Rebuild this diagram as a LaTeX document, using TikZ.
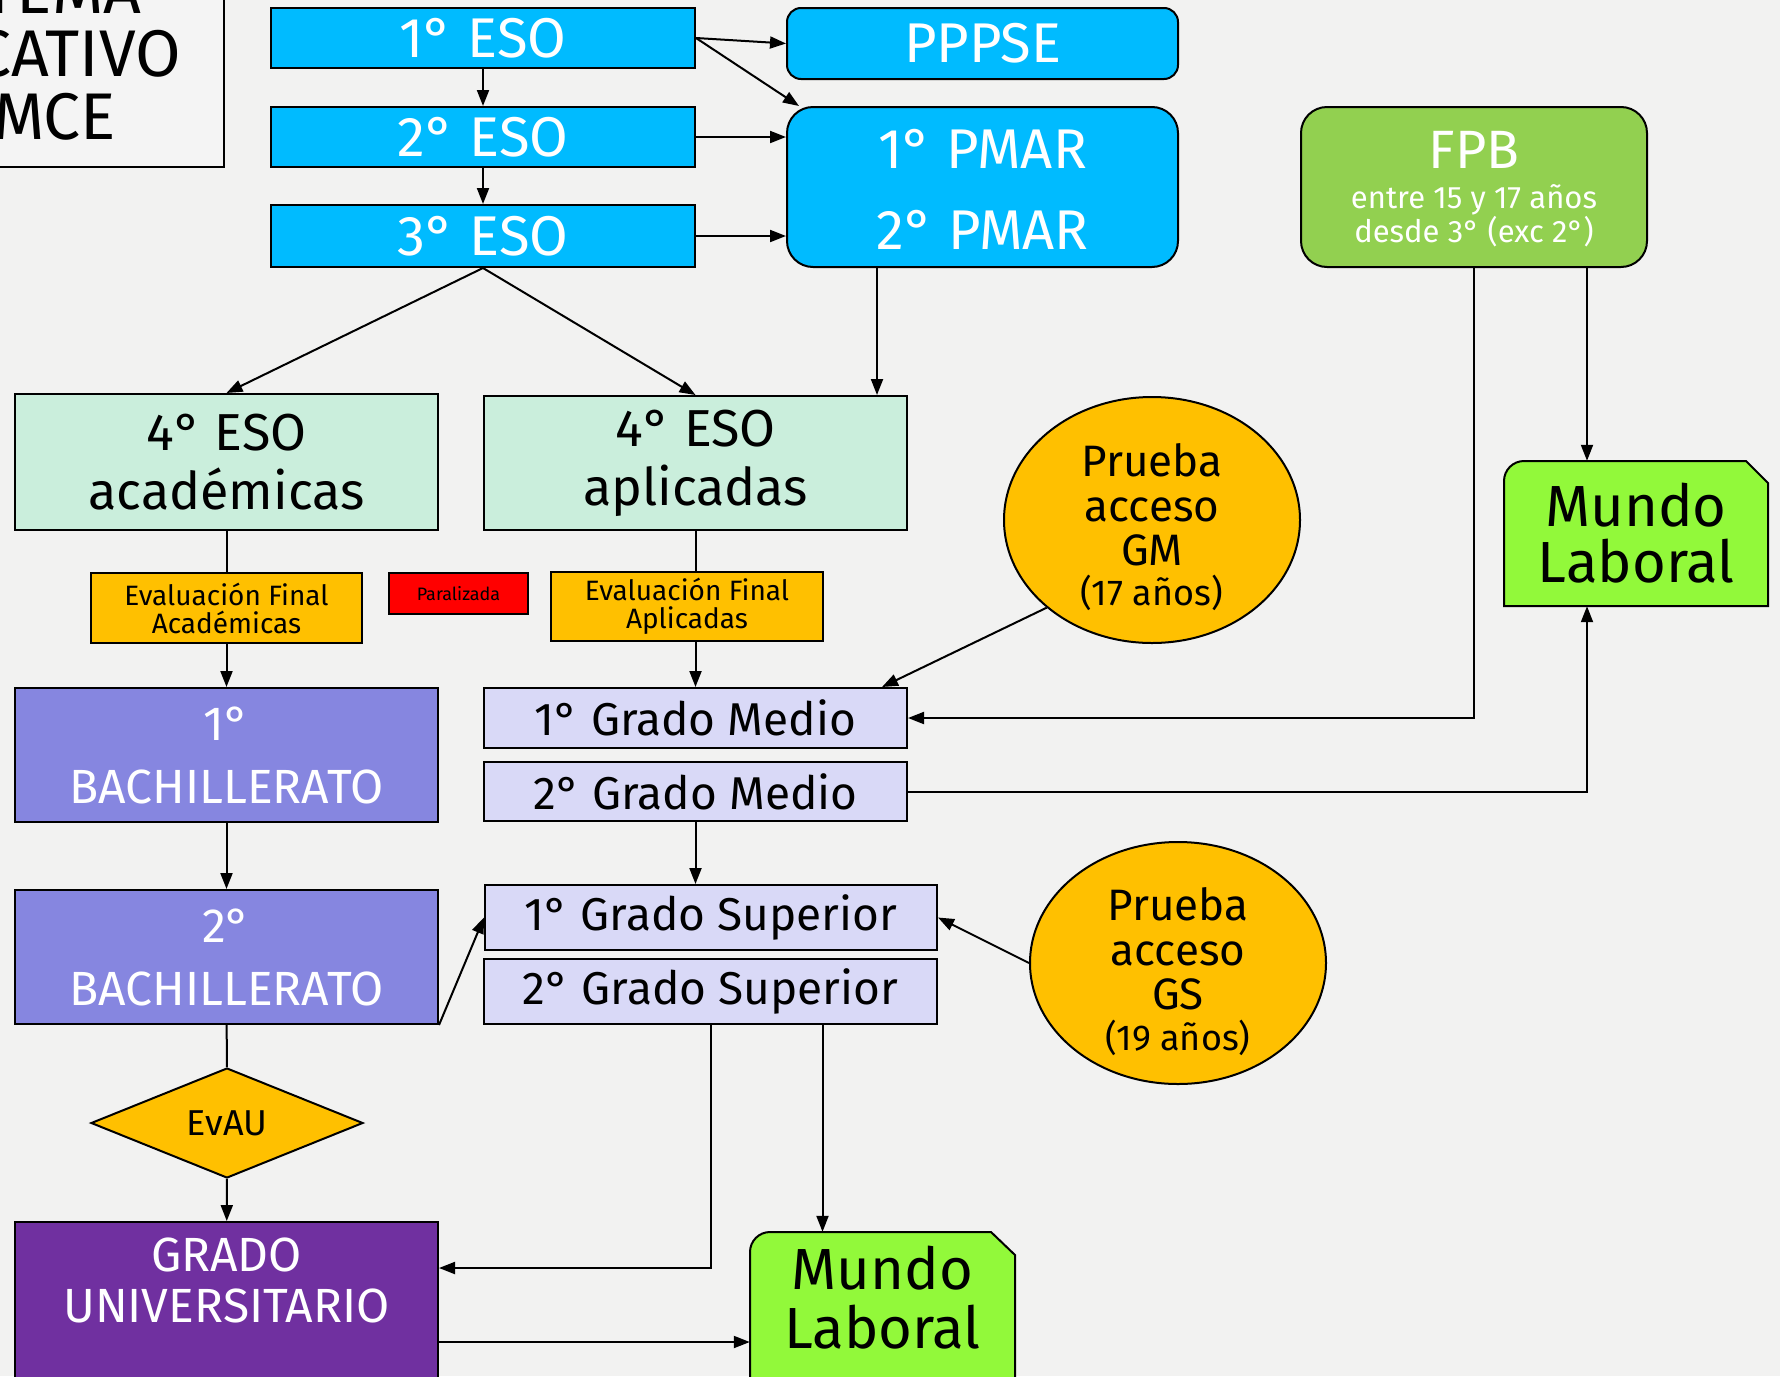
\documentclass[tikz,border=0pt]{standalone}
\usepackage{fontspec}
\setmainfont{Fira Sans}
\usetikzlibrary{arrows.meta,shapes.geometric}
\definecolor{bgc}{RGB}{242,242,241}
\definecolor{esoblue}{RGB}{0,187,255}
\definecolor{fpbgreen}{RGB}{146,208,80}
\definecolor{mint}{RGB}{202,238,220}
\definecolor{orangey}{RGB}{255,192,0}
\definecolor{redbox}{RGB}{255,0,0}
\definecolor{bachc}{RGB}{134,134,224}
\definecolor{lav}{RGB}{217,217,247}
\definecolor{mlgreen}{RGB}{146,249,58}
\definecolor{gupurple}{RGB}{112,48,160}
\definecolor{titlec}{RGB}{244,244,244}
\newcommand{\fsz}[2]{\fontsize{#1}{#2}\selectfont}
\begin{document}
\begin{tikzpicture}[x=1pt,y=-1pt,
  box/.style={rectangle, draw=black, line width=2pt, inner sep=0pt, align=center},
  txt/.style={inner sep=0pt, align=center},
  esobox/.style={box, fill=esoblue, text=white, font=\fsz{56}{60}},
  mintbox/.style={box, fill=mint, font=\fsz{52}{59}, minimum width=423pt},
  evbox/.style={box, fill=orangey, font=\fsz{28}{28}},
  bachbox/.style={box, fill=bachc, text=white, font=\fsz{48}{63}, minimum width=423pt, minimum height=134pt},
  lavbox/.style={box, fill=lav, font=\fsz{46}{50}},
  oval/.style={ellipse, draw=black, line width=2pt, fill=orangey, inner sep=0pt, minimum width=296pt},
  mlshape/.style={draw=black, line width=2pt, fill=mlgreen},
  arr/.style={draw=black, line width=2pt, -{Triangle[length=16pt,width=12pt]}},
  ln/.style={draw=black, line width=2pt}
]
\useasboundingbox (0,0) rectangle (1780,1376);
\fill[bgc] (0,0) rectangle (1780,1376);
\clip (0,0) rectangle (1780,1376);

% title
\node[box, fill=titlec, minimum width=524pt, minimum height=267pt] (title) at (-38,33.5) {};
\node[txt, font=\fsz{66}{63}] (titleT) at (17,54) {SISTEMA\\EDUCATIVO\\LOMCE};

% ESO column
\node[esobox, minimum width=424pt, minimum height=60pt] (eso1) at (483,38) {1° ESO};
\node[esobox, minimum width=424pt, minimum height=60pt] (eso2) at (483,137) {2° ESO};
\node[esobox, minimum width=424pt, minimum height=62pt] (eso3) at (483,236) {3° ESO};

\node[esobox, rounded corners=14pt, minimum width=391pt, minimum height=71pt] (pppse) at (982.5,43.5) {PPPSE};
\node[esobox, rounded corners=26pt, minimum width=391pt, minimum height=160pt] (pmar) at (982.5,187) {};
\node[txt, text=white, font=\fsz{56}{60}] (pmarA) at (982.5,149) {1° PMAR};
\node[txt, text=white, font=\fsz{56}{60}] (pmarB) at (982.5,230) {2° PMAR};

\node[box, fill=fpbgreen, rounded corners=26pt, minimum width=346pt, minimum height=160pt] (fpb) at (1474,187) {};
\node[txt, text=white, font=\fsz{54}{60}] (fpbA) at (1474,150) {FPB};
\node[txt, text=white, font=\fsz{31}{34}] (fpbB) at (1474,216) {entre 15 y 17 años\\desde 3° (exc 2°)};

% 4º ESO
\node[mintbox, minimum height=136pt] (acad) at (226.5,462) {4° ESO\\académicas};
\node[mintbox, minimum height=134pt] (aplic) at (695.5,463) {4° ESO\\aplicadas};

% Prueba GM
\node[oval, minimum height=246pt] (pgm) at (1152,520) {};
\node[txt, font=\fsz{44}{44.5}] (pgmA) at (1152,505) {Prueba\\acceso\\GM};
\node[txt, font=\fsz{36}{40}] (pgmB) at (1152,593) {(17 años)};

% Mundo Laboral right
\path[mlshape] (1504,606) -- (1504,481) .. controls (1504,470) and (1513,461) .. (1524,461) -- (1746,461) -- (1768,483) -- (1768,606) -- cycle;
\node[txt, font=\fsz{58}{56}, minimum width=264pt, minimum height=145pt] (mlR) at (1636,533.5) {Mundo\\Laboral};

% evaluations
\node[evbox, minimum width=271pt, minimum height=70pt] (evA) at (226.5,608) {Evaluación Final\\Académicas};
\node[box, fill=redbox, font=\fsz{18}{20}, minimum width=139pt, minimum height=41pt] (par) at (458.5,593.5) {Paralizada};
\node[evbox, minimum width=272pt, minimum height=69pt] (evB) at (687,606.5) {Evaluación Final\\Aplicadas};

% Bachillerato / grado medio / superior
\node[bachbox] (bach1) at (226.5,755) {1°\\BACHILLERATO};
\node[lavbox, minimum width=423pt, minimum height=60pt] (gm1) at (695.5,718) {1° Grado Medio};
\node[lavbox, minimum width=423pt, minimum height=59pt] (gm2) at (695.5,791.5) {2° Grado Medio};
\node[bachbox] (bach2) at (226.5,957) {2°\\BACHILLERATO};
\node[lavbox, minimum width=452pt, minimum height=65pt] (gs1) at (711,917.5) {1° Grado Superior};
\node[lavbox, minimum width=453pt, minimum height=65pt] (gs2) at (710.5,991.5) {2° Grado Superior};

% Prueba GS
\node[oval, minimum height=242pt] (pgs) at (1178,963) {};
\node[txt, font=\fsz{44}{44.5}] (pgsA) at (1178,949) {Prueba\\acceso\\GS};
\node[txt, font=\fsz{36}{40}] (pgsB) at (1178,1038) {(19 años)};

% EvAU and university
\node[diamond, draw=black, line width=2pt, fill=orangey, inner sep=0pt, minimum width=272pt, minimum height=110pt, font=\fsz{36}{40}] (evau) at (227,1123) {EvAU};
\node[box, fill=gupurple, minimum width=423pt, minimum height=208pt] (gu) at (226.5,1326) {};
\node[txt, text=white, font=\fsz{48}{51}] (guT) at (226.5,1280) {GRADO\\UNIVERSITARIO};

% Mundo Laboral bottom
\path[mlshape] (750,1440) -- (750,1252) .. controls (750,1241) and (759,1232) .. (770,1232) -- (991,1232) -- (1015,1255) -- (1015,1440) -- cycle;
\node[txt, minimum width=265pt, minimum height=198pt] (mlB) at (882.5,1331) {};
\node[txt, font=\fsz{58}{59}] (mlBT) at (882.5,1298) {Mundo\\Laboral};

% connectors
\draw[arr] (eso1) -- (eso2);
\draw[arr] (eso2) -- (eso3);
\draw[arr] (eso1.east) -- (pppse.west);
\draw[arr] (eso1.east) -- ([xshift=13pt]pmar.north west);
\draw[arr] (eso2.east) -- (eso2.east -| pmar.west);
\draw[arr] (eso3.east) -- (eso3.east -| pmar.west);
\draw[arr] (eso3.south) -- (acad.north);
\draw[arr] (eso3.south) -- (aplic.north);
\coordinate (pm) at ([xshift=-105.5pt]pmar.south);
\draw[arr] (pm) -- (pm |- aplic.north);
\draw[arr] (fpb.south) |- (gm1.east);
\coordinate (fp) at ([xshift=113pt]fpb.south);
\draw[arr] (fp) -- (fp |- mlR.north);
\draw[arr] (gm2.east) -| (fp |- mlR.south);
\draw[arr] (pgm.south west) -- ([xshift=-26pt]gm1.north east);
\draw[ln] (acad) -- (evA);
\draw[arr] (evA) -- (bach1);
\draw[ln] (aplic.south) -- (aplic.south |- evB.north);
\draw[arr] (evB.south -| gm1.north) -- (gm1.north);
\draw[arr] (bach1) -- (bach2);
\draw[ln] (bach2) -- (evau);
\draw[arr] (evau) -- (gu);
\draw[arr] (bach2.south east) -- (gs1.west);
\draw[arr] (gm2.south) -- (gm2.south |- gs1.north);
\draw[arr] (pgs.west) -- (gs1.east);
\coordinate (gu1) at ([yshift=-47pt]gu.north east);
\draw[arr] (gs2.south) |- (gu1);
\coordinate (gs2r) at ([xshift=112pt]gs2.south);
\draw[arr] (gs2r) -- (gs2r |- mlB.north);
\coordinate (gu2) at ([yshift=-121pt]gu.north east);
\draw[arr] (gu2) -- (gu2 -| mlB.west);
\end{tikzpicture}
\end{document}
